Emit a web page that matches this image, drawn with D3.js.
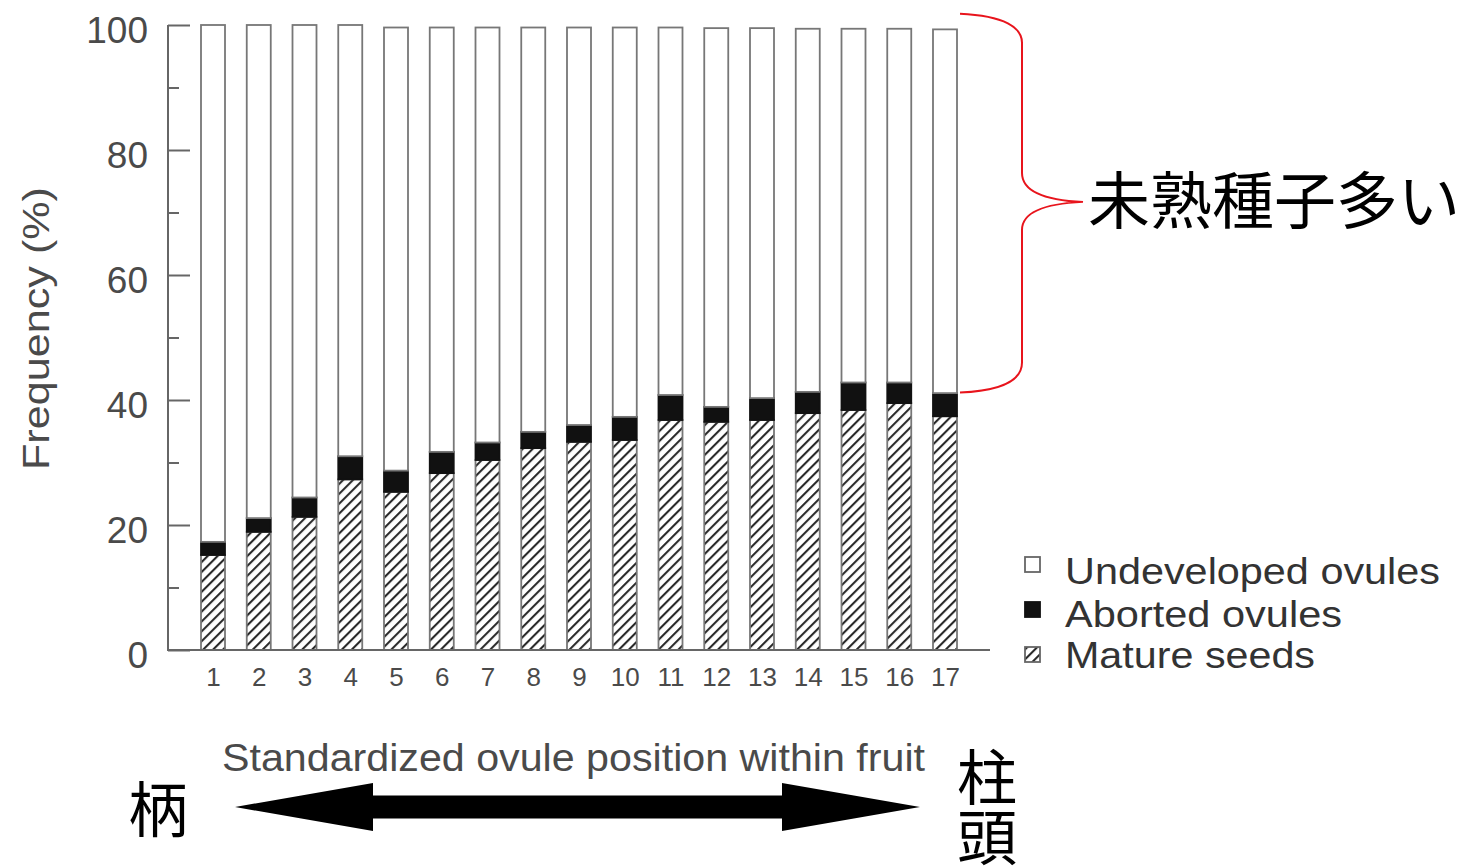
<!DOCTYPE html>
<html>
<head>
<meta charset="utf-8">
<script src="https://cdn.jsdelivr.net/npm/d3@7"></script>
<style>
  html, body { margin: 0; padding: 0; background: #fff; }
  svg { display: block; }
</style>
</head>
<body>
<svg id="chart" width="1469" height="866"></svg>
<script>
// ---------- data ----------
const positions = ["1","2","3","4","5","6","7","8","9","10","11","12","13","14","15","16","17"];
const matureSeeds   = [15.2,18.9,21.3,27.3,25.3,28.3,30.4,32.3,33.3,33.6,36.8,36.5,36.8,37.9,38.4,39.5,37.4];
const abortedOvules = [2.1,2.2,3.1,3.7,3.4,3.4,2.8,2.6,2.7,3.7,4.0,2.4,3.5,3.4,4.4,3.3,3.7];
const totals        = [100,100,100,100,99.6,99.6,99.6,99.6,99.6,99.6,99.6,99.5,99.5,99.4,99.4,99.4,99.3];
const undevelopedOvules = totals.map((t, i) => +(t - matureSeeds[i] - abortedOvules[i]).toFixed(1));
const yTicksMajor = [0,20,40,60,80,100];
const yTicksMinor = [10,30,50,70,90];
const legendLabels = ["Undeveloped ovules","Aborted ovules","Mature seeds"];
const xTitle = "Standardized ovule position within fruit";
const yTitle = "Frequency (%)";
const braceLabel = "未熟種子多い";
const leftLabel = "柄";
const rightLabel = ["柱","頭"];

// ---------- setup ----------
const svg = d3.select("#chart");
const gray = "#666";
const textGray = "#4a4a4a";
const x = d3.scalePoint().domain(positions).range([213, 945]);
const y = d3.scaleLinear().domain([0, 100]).range([650, 25]);
const barW = 24;

const defs = svg.append("defs");
const pat = defs.append("pattern")
  .attr("id", "hatch").attr("patternUnits", "userSpaceOnUse")
  .attr("width", 7).attr("height", 7)
  .attr("patternTransform", "rotate(45)");
pat.append("rect").attr("width", 7).attr("height", 7).attr("fill", "#fff");
pat.append("line").attr("x1", 1).attr("y1", 0).attr("x2", 1).attr("y2", 7)
  .attr("stroke", "#2a2a2a").attr("stroke-width", 2.2);

const rows = positions.map((p, i) => ({
  pos: p, mature: matureSeeds[i], aborted: abortedOvules[i], undeveloped: undevelopedOvules[i]
}));
const keys = ["mature", "aborted", "undeveloped"];
const fills = { mature: "url(#hatch)", aborted: "#111", undeveloped: "#fff" };
const stack = d3.stack().keys(keys)(rows);

// ---------- bars ----------
const gBars = svg.append("g");
stack.forEach(layer => {
  gBars.selectAll(null).data(layer).join("rect")
    .attr("x", d => x(d.data.pos) - barW / 2)
    .attr("y", d => y(d[1]))
    .attr("width", barW)
    .attr("height", d => y(d[0]) - y(d[1]))
    .attr("fill", fills[layer.key])
    .attr("stroke", layer.key === "aborted" ? "#111" : "#777")
    .attr("stroke-width", 1.8);
});

// ---------- axes ----------
const yAxis = d3.axisLeft(y).tickValues(yTicksMajor).tickSizeInner(-22).tickSizeOuter(0).tickPadding(20);
const gy = svg.append("g").attr("transform", "translate(168,0)").call(yAxis);
gy.select(".domain").remove();
gy.selectAll(".tick line").attr("stroke", gray).attr("stroke-width", 2);
gy.selectAll(".tick text").attr("fill", textGray).attr("dy", "0.46em")
  .style("font-family", "'Liberation Sans', Arial, sans-serif").style("font-size", "37px");

const yMinor = d3.axisLeft(y).tickValues(yTicksMinor).tickSizeInner(-11).tickSizeOuter(0).tickFormat("");
const gym = svg.append("g").attr("transform", "translate(168,0)").call(yMinor);
gym.select(".domain").remove();
gym.selectAll(".tick line").attr("stroke", gray).attr("stroke-width", 2);

svg.append("line").attr("x1", 168).attr("x2", 168).attr("y1", y(100)).attr("y2", y(0))
  .attr("stroke", gray).attr("stroke-width", 2);
svg.append("line").attr("x1", 167).attr("x2", 990).attr("y1", y(0)).attr("y2", y(0))
  .attr("stroke", gray).attr("stroke-width", 2);

const xAxis = d3.axisBottom(x).tickSize(0).tickPadding(18);
const gx = svg.append("g").attr("transform", `translate(0,${y(0)})`).call(xAxis);
gx.select(".domain").remove();
gx.selectAll(".tick text").attr("fill", textGray)
  .style("font-family", "'Liberation Sans', Arial, sans-serif").style("font-size", "26px");

// axis titles
svg.append("text")
  .attr("transform", `translate(49,${(187 + 470) / 2}) rotate(-90)`)
  .attr("text-anchor", "middle")
  .attr("textLength", 283).attr("lengthAdjust", "spacingAndGlyphs")
  .attr("fill", textGray)
  .style("font-family", "'Liberation Sans', Arial, sans-serif").style("font-size", "37px")
  .text(yTitle);

svg.append("text")
  .attr("x", 222).attr("y", 771)
  .attr("textLength", 703).attr("lengthAdjust", "spacingAndGlyphs")
  .attr("fill", textGray)
  .style("font-family", "'Liberation Sans', Arial, sans-serif").style("font-size", "38px")
  .text(xTitle);

// ---------- legend ----------
const legKeys = ["undeveloped", "aborted", "mature"];
const legY = [565, 610, 655];
const legBase = [584, 627, 668];
const gLeg = svg.append("g");
legKeys.forEach((k, i) => {
  gLeg.append("rect").attr("x", 1025).attr("y", legY[i] - 8).attr("width", 15).attr("height", 15)
    .attr("fill", k === "mature" ? "url(#hatch)" : fills[k])
    .attr("stroke", k === "aborted" ? "#111" : "#666").attr("stroke-width", 1.8);
  gLeg.append("text").attr("x", 1065).attr("y", legBase[i])
    .attr("textLength", [375, 277, 250][i]).attr("lengthAdjust", "spacingAndGlyphs")
    .attr("fill", "#333")
    .style("font-family", "'Liberation Sans', Arial, sans-serif").style("font-size", "36px")
    .text(legendLabels[i]);
});

// ---------- red brace annotation ----------
const bTop = y(101.8), bBot = y(41.2), bMid = y(71.7);
const bx0 = 960, bx1 = 1022, bTip = 1083;
const bracePath = `M${bx0},${bTop} C${bx0 + 45},${bTop + 2} ${bx1},${bTop + 14} ${bx1},${bTop + 29}
  L${bx1},${bMid - 29} C${bx1},${bMid - 12} ${bx1 + 18},${bMid - 2} ${bTip},${bMid}
  C${bx1 + 18},${bMid + 2} ${bx1},${bMid + 12} ${bx1},${bMid + 28}
  L${bx1},${bBot - 30} C${bx1},${bBot - 14} ${bx0 + 45},${bBot - 2} ${bx0},${bBot}`;
svg.append("path").attr("d", bracePath).attr("fill", "none").attr("stroke", "#e8141c").attr("stroke-width", 2);

svg.append("text").attr("x", 1088).attr("y", 224)
  .attr("fill", "#000")
  .style("font-family", "'Noto Sans CJK JP', sans-serif").style("font-size", "62px")
  .text(braceLabel);

// ---------- bottom arrow ----------
const aY = 807, aL = 235, aR = 920, hb1 = 373, hb2 = 782, hh = 24, sh = 11.5;
svg.append("path")
  .attr("d", `M${aL},${aY} L${hb1},${aY - hh} L${hb1},${aY - sh} L${hb2},${aY - sh} L${hb2},${aY - hh}
    L${aR},${aY} L${hb2},${aY + hh} L${hb2},${aY + sh} L${hb1},${aY + sh} L${hb1},${aY + hh} Z`)
  .attr("fill", "#000");

svg.append("text").attr("x", 158).attr("y", 832).attr("text-anchor", "middle")
  .style("font-family", "'Noto Sans CJK JP', sans-serif").style("font-size", "60px")
  .attr("fill", "#000").text(leftLabel);
rightLabel.forEach((t, i) => {
  svg.append("text").attr("x", 987).attr("y", 800 + i * 60).attr("text-anchor", "middle")
    .style("font-family", "'Noto Sans CJK JP', sans-serif").style("font-size", "60px")
    .attr("fill", "#000").text(t);
});
</script>
</body>
</html>
